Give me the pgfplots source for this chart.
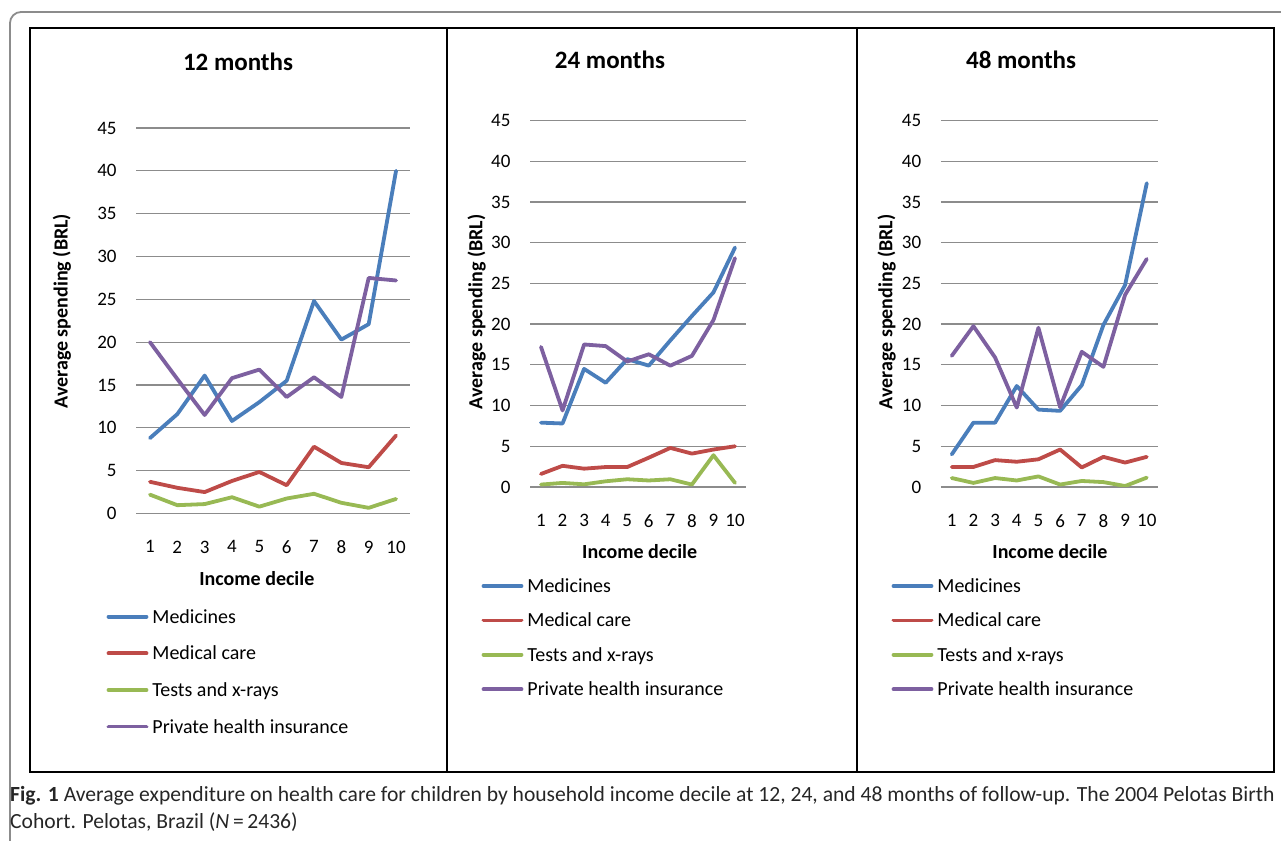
\documentclass[border=0pt]{standalone}
\usepackage{fontspec}
\setmainfont{Carlito}
\usepackage{pgfplots}
\usepackage{pgfplotstable}
\pgfplotsset{compat=1.18}
\definecolor{cMed}{HTML}{4A7EBB}
\definecolor{cCare}{HTML}{BE4B48}
\definecolor{cTest}{HTML}{98B954}
\definecolor{cPriv}{HTML}{7D60A0}
\definecolor{cGrid}{HTML}{8C8C8C}

\pgfplotstableread{
x med care tests priv
1 8.8 3.7 2.2 20.0
2 11.6 3.0 0.97 15.7
3 16.1 2.5 1.1 11.5
4 10.8 3.8 1.9 15.8
5 13.0 4.85 0.8 16.8
6 15.5 3.3 1.75 13.6
7 24.8 7.8 2.3 15.9
8 20.3 5.9 1.25 13.6
9 22.1 5.4 0.66 27.5
10 40.0 9.1 1.7 27.2
}\tabA
\pgfplotstableread{
x med care tests priv
1 7.9 1.6 0.3 17.2
2 7.8 2.6 0.5 9.4
3 14.5 2.25 0.33 17.5
4 12.8 2.45 0.7 17.3
5 15.7 2.45 0.95 15.4
6 14.9 3.6 0.8 16.3
7 18.0 4.8 0.95 14.9
8 21.0 4.1 0.3 16.1
9 23.9 4.6 3.9 20.5
10 29.4 5.0 0.5 28.1
}\tabB
\pgfplotstableread{
x med care tests priv
1 4.0 2.46 1.1 16.1
2 7.9 2.46 0.5 19.75
3 7.9 3.3 1.1 15.9
4 12.4 3.1 0.8 9.75
5 9.5 3.4 1.3 19.55
6 9.35 4.6 0.3 9.8
7 12.5 2.4 0.74 16.6
8 19.9 3.7 0.6 14.75
9 24.8 3.0 0.12 23.6
10 37.3 3.7 1.15 28.0
}\tabC

\pgfplotsset{
  panel/.style={
    scale only axis, anchor=south west,
    xmin=0.5, xmax=10.5, ymin=0, ymax=45,
    xtick={1,...,10}, ytick={0,5,...,45},
    ymajorgrids,
    major grid style={draw=cGrid, line width=1.3pt},
    axis line style={draw=none},
    major tick length=0pt,
    tick style={draw=none},
    /pgf/number format/assume math mode=true,
    ticklabel style={font=\fontsize{19}{22}\selectfont, inner sep=0pt},
    yticklabel style={anchor=east, xshift=-19.5pt},
    xticklabel style={anchor=north, yshift=-27pt},
    title style={font=\bfseries\fontsize{25}{30}\selectfont, anchor=center, inner sep=0pt},
    xlabel style={font=\bfseries\fontsize{20}{24}\selectfont, anchor=center, inner sep=0pt},
    ylabel style={font=\bfseries\fontsize{20}{24}\selectfont, anchor=center, inner sep=0pt},
    legend cell align=left,
    legend image code/.code={\draw[##1, line width=3.8pt, line cap=round] (0pt,0pt) -- (38pt,0pt);},
    every axis plot/.append style={line width=3.8pt, line join=round, line cap=round, mark=none},
  },
}

\begin{document}
\begin{tikzpicture}[x=1pt,y=1pt]
\path[use as bounding box] (0,0) rectangle (1281,840);
\coordinate (p1) at (136.3,326.5);
\coordinate (p2) at (530.2,353);
\coordinate (p3) at (940.9,353);
% frames
\draw[black!45, line width=1.8pt, rounded corners=11pt] (10,-40) -- (10,828) -- (1320,828);
\draw[black, line width=2pt] (30,68) rectangle (1274,812);
\draw[black, line width=2pt] (447,68) -- (447,812);
\draw[black, line width=2pt] (857,68) -- (857,812);

% panel 1
\begin{axis}[panel, at={(p1)}, width=273.4pt, height=385.5pt,
  title={12 months}, title style={at={(axis description cs:0.372,1.157)}},
  xlabel={Income decile}, xlabel style={at={(axis description cs:0.441,-0.170)}},
  ylabel={Average spending (BRL)}, ylabel style={at={(axis description cs:-0.272,0.525)}},
  legend style={draw=none, fill=none, inner sep=0pt, outer sep=0pt, row sep=23.6pt, column sep=4pt,
    font=\fontsize{20}{24}\selectfont, nodes={inner sep=0pt, text height=13pt, text depth=0pt},
    at={(axis description cs:-0.1086,-0.2511)}, anchor=north west}]
\addplot[cMed] table[x=x,y=med]{\tabA};
\addplot[cCare] table[x=x,y=care]{\tabA};
\addplot[cTest] table[x=x,y=tests]{\tabA};
\addplot[cPriv] table[x=x,y=priv]{\tabA};
\legend{Medicines,Medical care,Tests and x-rays,Private health insurance}
\end{axis}

% panel 2
\begin{axis}[panel, at={(p2)}, width=215.6pt, height=366.5pt,
  title={24 months}, title style={at={(axis description cs:0.370,1.148)}},
  xlabel={Income decile}, xlabel style={at={(axis description cs:0.508,-0.1765)}},
  ylabel={Average spending (BRL)}, ylabel style={at={(axis description cs:-0.248,0.478)}},
  legend style={draw=none, fill=none, inner sep=0pt, outer sep=0pt, row sep=21.4pt, column sep=4pt,
    font=\fontsize{20}{24}\selectfont, nodes={inner sep=0pt, text height=13pt, text depth=0pt},
    at={(axis description cs:-0.2254,-0.2524)}, anchor=north west}]
\addplot[cMed] table[x=x,y=med]{\tabB};
\addplot[cCare] table[x=x,y=care]{\tabB};
\addplot[cTest] table[x=x,y=tests]{\tabB};
\addplot[cPriv] table[x=x,y=priv]{\tabB};
\legend{Medicines,Medical care,Tests and x-rays,Private health insurance}
\end{axis}

% panel 3
\begin{axis}[panel, at={(p3)}, width=216.7pt, height=366.5pt,
  title={48 months}, title style={at={(axis description cs:0.370,1.148)}},
  xlabel={Income decile}, xlabel style={at={(axis description cs:0.503,-0.1765)}},
  ylabel={Average spending (BRL)}, ylabel style={at={(axis description cs:-0.250,0.478)}},
  legend style={draw=none, fill=none, inner sep=0pt, outer sep=0pt, row sep=21.4pt, column sep=4pt,
    font=\fontsize{20}{24}\selectfont, nodes={inner sep=0pt, text height=13pt, text depth=0pt},
    at={(axis description cs:-0.2275,-0.2524)}, anchor=north west}]
\addplot[cMed] table[x=x,y=med]{\tabC};
\addplot[cCare] table[x=x,y=care]{\tabC};
\addplot[cTest] table[x=x,y=tests]{\tabC};
\addplot[cPriv] table[x=x,y=priv]{\tabC};
\legend{Medicines,Medical care,Tests and x-rays,Private health insurance}
\end{axis}

% caption
\node[anchor=base west, inner sep=0pt, text=black!85, font=\fontsize{21.6}{26}\selectfont] at (10,39)
  {\textbf{Fig. 1} Average expenditure on health care for children by household income decile at 12, 24, and 48 months of follow-up. The 2004 Pelotas Birth};
\node[anchor=base west, inner sep=0pt, text=black!85, font=\fontsize{21.6}{26}\selectfont] at (10,12)
  {Cohort. Pelotas, Brazil (\textit{N}\,=\,2436)};
\end{tikzpicture}
\end{document}
